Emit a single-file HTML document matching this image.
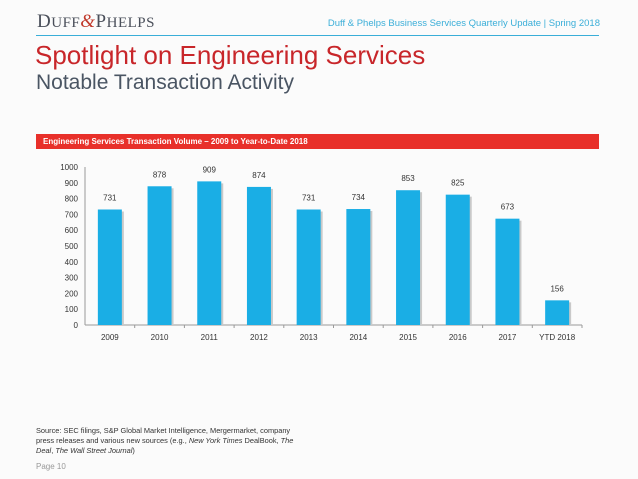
<!DOCTYPE html>
<html><head><meta charset="utf-8"><style>
body{margin:0;width:638px;height:479px;background:#fbfbfb;font-family:"Liberation Sans",sans-serif;position:relative;overflow:hidden}
.a{position:absolute;white-space:nowrap}
</style></head><body>
<div class="a" style="left:37px;top:11px;font-family:'Liberation Serif',serif;font-size:19px;color:#4a4f5a;letter-spacing:0.5px">D<span style="font-size:15px">UFF</span><i style="color:#c0392b">&amp;</i>P<span style="font-size:15px">HELPS</span></div>
<div class="a" style="right:38px;top:18px;font-size:9.5px;color:#3aaed8">Duff &amp; Phelps Business Services Quarterly Update | Spring 2018</div>
<div class="a" style="left:36px;top:35px;width:563px;height:1px;background:#3aaed8"></div>
<div class="a" style="left:35px;top:40px;font-size:26px;color:#c8262a">Spotlight on Engineering Services</div>
<div class="a" style="left:36px;top:71px;font-size:21px;color:#4a5563">Notable Transaction Activity</div>
<div class="a" style="left:36px;top:134px;width:563px;height:15px;background:#e8302a;color:#fff;font-size:8px;font-weight:bold;line-height:15px;padding-left:7px;box-sizing:border-box">Engineering Services Transaction Volume – 2009 to Year-to-Date 2018</div>
<svg class="a" style="left:0;top:0" width="638" height="479" id="chart"></svg>
<div class="a" style="left:36px;top:426px;font-size:7.4px;color:#333;line-height:10px;white-space:normal;width:262px">Source: SEC filings, S&amp;P Global Market Intelligence, Mergermarket, company press releases and various new sources (e.g., <i>New York Times</i> DealBook, <i>The Deal</i>, <i>The Wall Street Journal</i>)</div>
<div class="a" style="left:36px;top:462px;font-size:8px;color:#999">Page 10</div>
<script>
const categories=["2009","2010","2011","2012","2013","2014","2015","2016","2017","YTD 2018"];
const values=[731,878,909,874,731,734,853,825,673,156];
const yTicks=[0,100,200,300,400,500,600,700,800,900,1000];
const svg=document.getElementById('chart');const NS='http://www.w3.org/2000/svg';
const x0=85,x1=582,y0=325,y1=167,ymax=1000;
const bw=(x1-x0)/categories.length;
const Y=v=>y0-(v/ymax)*(y0-y1);
const X=i=>x0+bw*(i+0.5);
function mk(t,a){const e=document.createElementNS(NS,t);for(const k in a)e.setAttribute(k,a[k]);svg.appendChild(e);return e;}
yTicks.forEach(t=>{const e=mk('text',{x:x0-7,y:Y(t)+3,'text-anchor':'end','font-size':'8','fill':'#333'});e.textContent=t;

});
const ax=mk('line',{x1:x0,x2:x1,y1:y0,y2:y0,stroke:'#999','stroke-width':1});


const ay=mk('line',{x1:x0,x2:x0,y1:y1,y2:y0,stroke:'#999','stroke-width':1});


categories.forEach((c,i)=>{
const cx=X(i),v=values[i];
const sh=mk('rect',{x:cx-12+2,y:Y(v)+2,width:24,height:y0-Y(v)-2,fill:'#c9c9c9'});


const b=mk('rect',{x:cx-12,y:Y(v),width:24,height:y0-Y(v),fill:'#1aaee5'});


const l=mk('text',{x:cx,y:Y(v)-9,'text-anchor':'middle','font-size':'8','fill':'#333'});l.textContent=v;


const tl=mk('text',{x:cx,y:y0+15,'text-anchor':'middle','font-size':'8','fill':'#333'});tl.textContent=c;


const tk=mk('line',{x1:x0+bw*(i+1),x2:x0+bw*(i+1),y1:y0,y2:y0+3,stroke:'#999'});


});
</script>
</body></html>
